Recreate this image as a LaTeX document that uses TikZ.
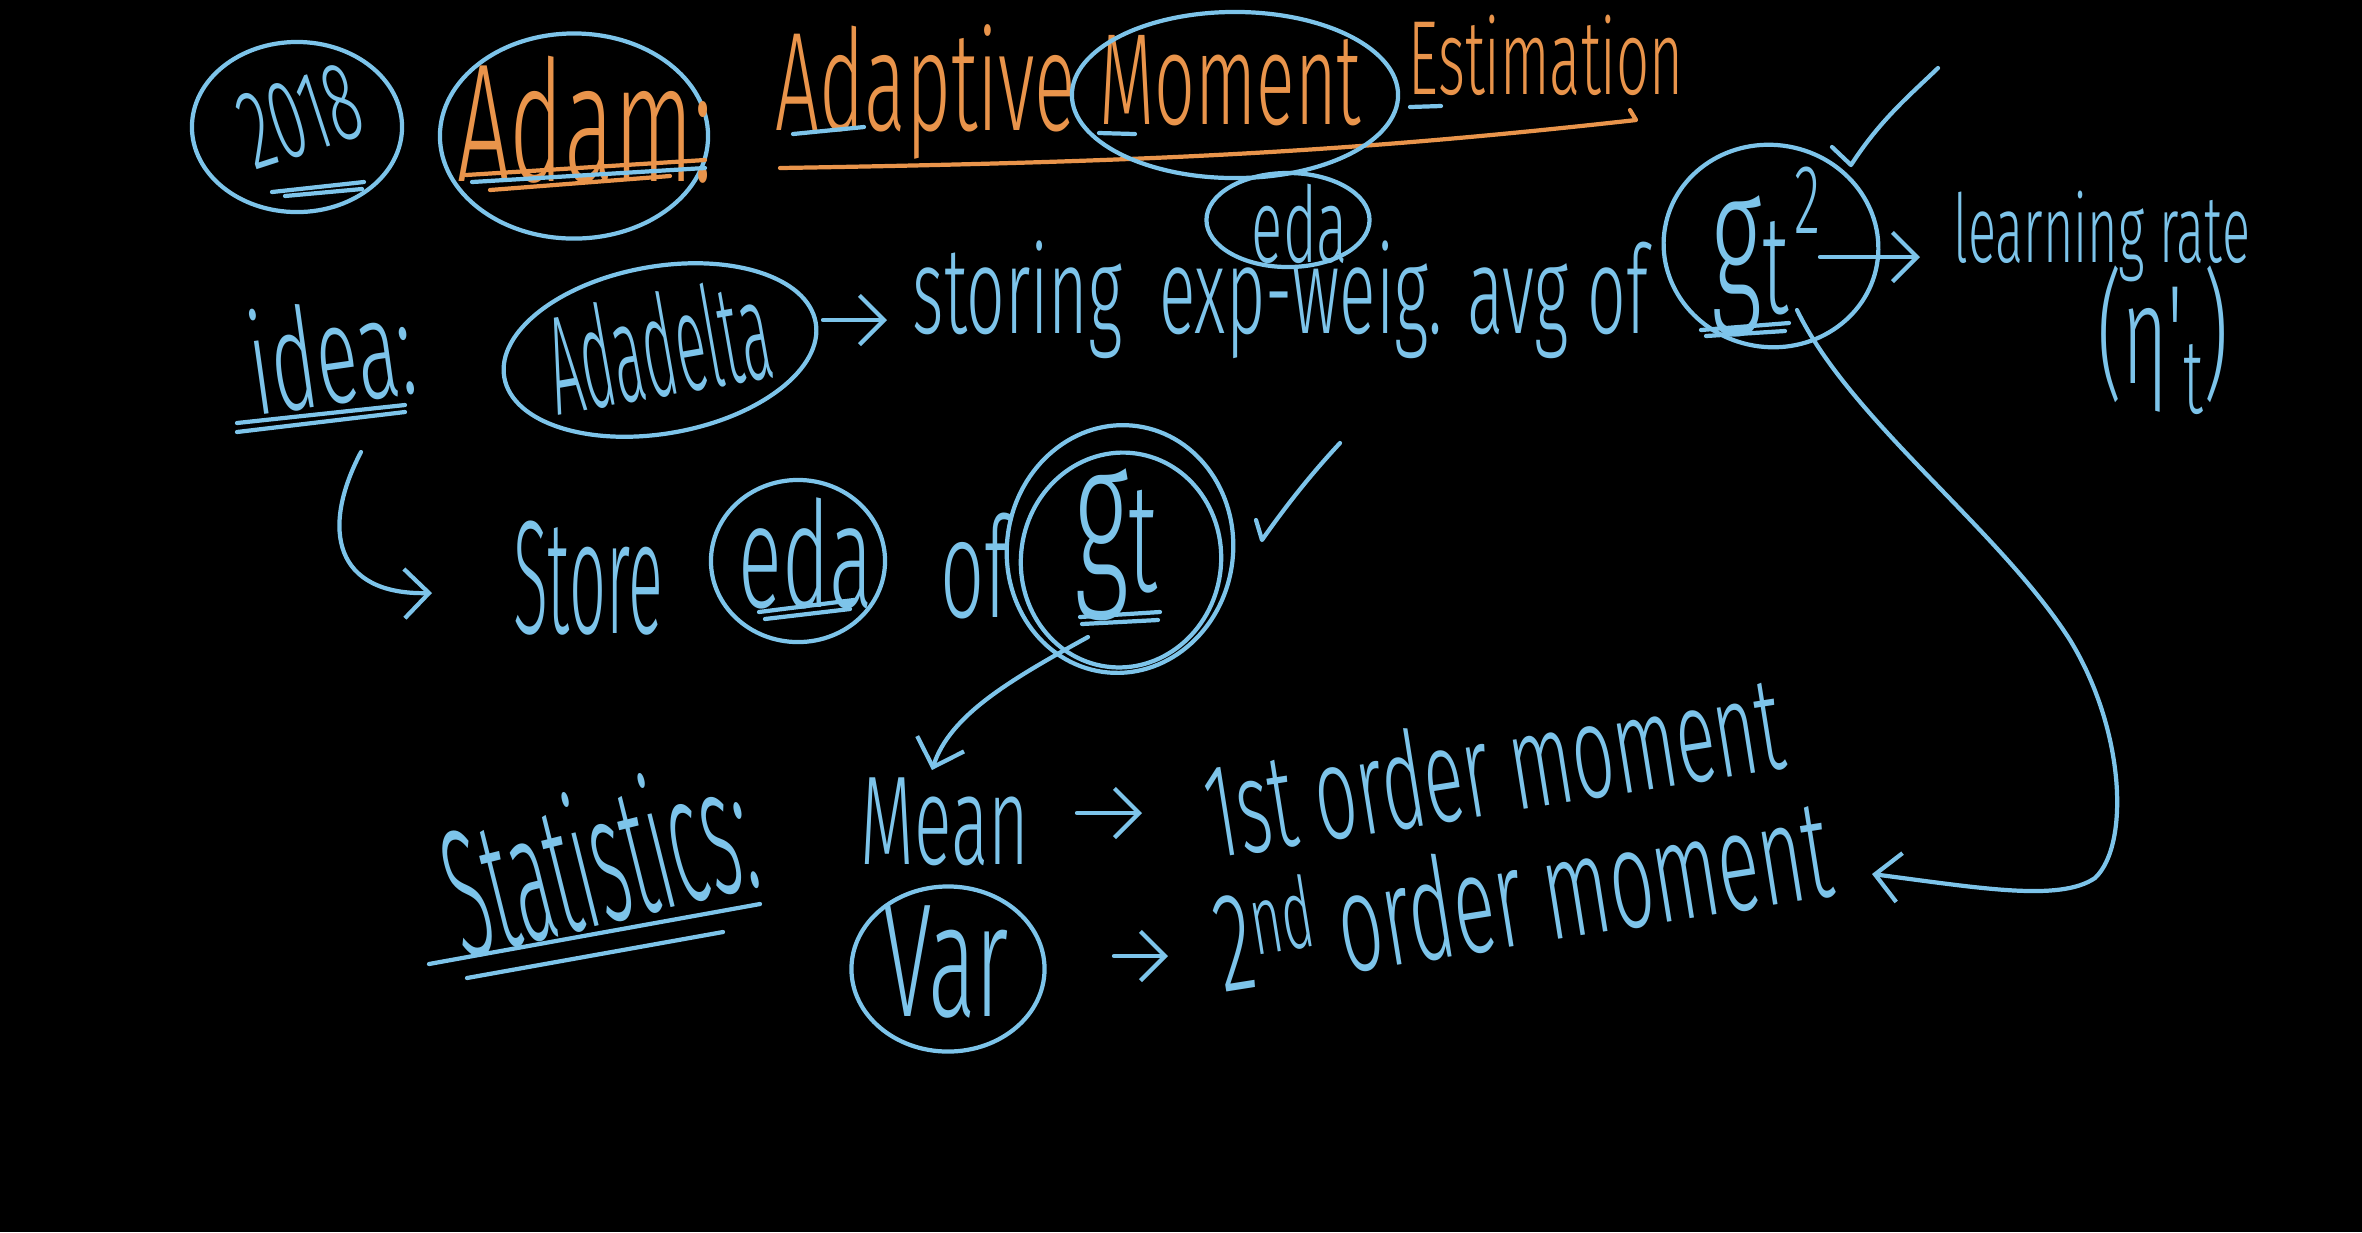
\documentclass[tikz,border=0pt]{standalone}
\usepackage{fontspec}
\setmainfont{Fira Sans}
\newfontfamily\hand{Fira Sans Light}[FakeStretch=0.55]
\newfontfamily\handn{Fira Sans Light}[FakeStretch=0.4]
\usetikzlibrary{shapes.geometric,arrows.meta}
\definecolor{cblue}{HTML}{7DC4EA}
\definecolor{corange}{HTML}{E9944B}
\newcommand\hsz[1]{\hand\fontsize{#1}{#1}\selectfont}
\newcommand\nsz[1]{\handn\fontsize{#1}{#1}\selectfont}
\tikzset{
  pen/.style={draw=cblue, line width=1.2pt, line cap=round, line join=round},
  orpen/.style={draw=corange, line width=1.2pt, line cap=round, line join=round},
  arr/.style={pen, -{Straight Barb[length=7pt,width=14pt]}},
  ring/.style={ellipse, draw=cblue, line width=1.2pt, inner sep=0pt},
  btxt/.style={text=cblue, inner sep=0pt},
  otxt/.style={text=corange, inner sep=0pt},
}
\begin{document}
\begin{tikzpicture}[x=0.01cm,y=-0.01cm]
\fill[black] (0,0) rectangle (2362,1232);
\useasboundingbox (0,0) rectangle (2362,1232);

% ---- top row
\node[ring, minimum width=2.1cm, minimum height=1.7cm] (r2018) at (297,127) {};
\node[btxt, font={\hsz{32}}, rotate=18] (y2018) at (300,116) {2018};
\draw[pen] (272,192) -- (364,182);
\draw[pen] (285,196) -- (362,189);

\node[ring, minimum width=2.68cm, minimum height=2.05cm] (radam) at (574,136) {};
\node[otxt, font={\hsz{48}}] (adam) at (585,120) {Adam:};
\draw[orpen] (466,175) -- (705,160);
\draw[pen] (472,182) -- (705,168);
\draw[orpen] (490,190) -- (670,176);

\node[otxt, font={\hsz{40}}, anchor=base west] (adaptive) at (775,130) {Adaptive};
\node[otxt, font={\hsz{37}}, anchor=base west] (moment) at (1099,124) {Moment};
\node[otxt, font={\hsz{30}}, anchor=base west] (estim) at (1408,94) {Estimation};
\draw[orpen] (780,168) .. controls (1150,162) and (1350,152) .. (1636,120) -- (1630,110);
\draw[pen] (793,134) -- (864,127);
\draw[pen] (1099,133) -- (1135,134);
\draw[pen] (1410,107) -- (1441,106);
\node[ring, minimum width=3.26cm, minimum height=1.66cm] (rmoment) at (1235,95) {};
\node[ring, minimum width=1.63cm, minimum height=0.94cm] (reda) at (1288,220) {};
\node[btxt, font={\hsz{30}}] (eda) at (1300,224) {eda};

% ---- idea row
\node[btxt, font={\hsz{40}}, rotate=8] (idea) at (331,352) {idea:};
\draw[pen] (237,423) -- (405,405);
\draw[pen] (237,432) -- (405,412);

\node[ring, minimum width=3.16cm, minimum height=1.67cm, rotate=10] (radadelta) at (660,350) {};
\node[btxt, font={\nsz{40}}, rotate=10] (adadelta) at (658,345) {Adadelta};
\node[btxt, font={\hsz{35}}, anchor=base west] (storing) at (912,333) {storing\hspace{0.3em}exp-weig. avg of};
\coordinate (a1s) at (823,320);
\coordinate (a1e) at (887,320);
\draw[arr] (a1s) -- (a1e);

\node[ring, minimum width=2.15cm, minimum height=2.02cm, rotate=-10] (rgsq) at (1771,246) {};
\node[btxt, font={\hsz{52}}] (gsq) at (1750,266) {g\raisebox{-0.15ex}{\hsz{40}t}};
\node[btxt, font={\hsz{28}}] (sq) at (1807,200) {2};
\draw[pen] (1701,330) -- (1789,323);
\draw[pen] (1706,336) -- (1785,331);
\draw[pen] (1832,147) -- (1851,165) .. controls (1880,120) and (1910,95) .. (1938,68);

\node[btxt, font={\hsz{27}}] (lr) at (2102,236) {learning rate};
\node[btxt, font={\hsz{40}}] (eta) at (2163,340) {(η'\raisebox{-0.4ex}{\hsz{30}t})};
\coordinate (a2s) at (1820,257);
\coordinate (a2e) at (1920,257);
\draw[arr] (a2s) -- (a2e);

% ---- store row
\coordinate (a3s) at (361,452);
\coordinate (a3e) at (432,593);
\draw[arr] (a3s) .. controls (320,530) and (335,595) .. (a3e);
\node[btxt, font={\nsz{46}}] (store) at (588,578) {Store};
\node[ring, minimum width=1.74cm, minimum height=1.62cm] (reda2) at (798,561) {};
\node[btxt, font={\hsz{42}}] (eda2) at (806,553) {eda};
\draw[pen] (759,612) -- (854,600);
\draw[pen] (765,619) -- (850,609);
\node[btxt, font={\hsz{40}}] (of) at (975,566) {of};
\node[ring, minimum width=2.26cm, minimum height=2.48cm, rotate=-8] (rgt1) at (1120,549) {};
\node[ring, minimum width=2.0cm, minimum height=2.15cm, rotate=-8] (rgt2) at (1121,560) {};
\node[btxt, font={\hsz{56}}] (gt) at (1116,545) {g\raisebox{-0.1ex}{\hsz{44}t}};
\draw[pen] (1080,617) -- (1160,612);
\draw[pen] (1082,624) -- (1158,620);
\draw[pen] (1256,520) -- (1262,540) .. controls (1290,500) and (1315,470) .. (1340,443);

% ---- statistics
\node[btxt, font={\nsz{52}}, rotate=14] (stat) at (597,856) {Statistics:};
\draw[pen] (429,964) -- (760,904);
\draw[pen] (467,978) -- (723,932);
\node[btxt, font={\hsz{36}}] (mean) at (945,822) {Mean};
\coordinate (a4s) at (1088,637);
\coordinate (a4e) at (932,770);
\draw[arr] (a4s) .. controls (1010,680) and (950,715) .. (a4e);
\coordinate (a5s) at (1077,813);
\coordinate (a5e) at (1142,813);
\draw[arr] (a5s) -- (a5e);
\node[btxt, font={\hsz{38}}, rotate=9] (first) at (1493,765) {1st order moment};

\node[ring, minimum width=1.93cm, minimum height=1.65cm] (rvar) at (948,969) {};
\node[btxt, font={\hsz{46}}] (var) at (946,962) {Var};
\coordinate (a6s) at (1114,956);
\coordinate (a6e) at (1168,956);
\draw[arr] (a6s) -- (a6e);
\node[btxt, font={\hsz{40}}, rotate=9] (second) at (1522,893) {2\textsuperscript{nd} order moment};

\coordinate (c1) at (1797,310);
\coordinate (c2) at (1872,874);
\draw[arr] (c1) .. controls (1850,420) and (2000,530) .. (2070,640)
  .. controls (2125,730) and (2130,845) .. (2095,878)
  .. controls (2060,902) and (1980,888) .. (c2);
\end{tikzpicture}
\end{document}
